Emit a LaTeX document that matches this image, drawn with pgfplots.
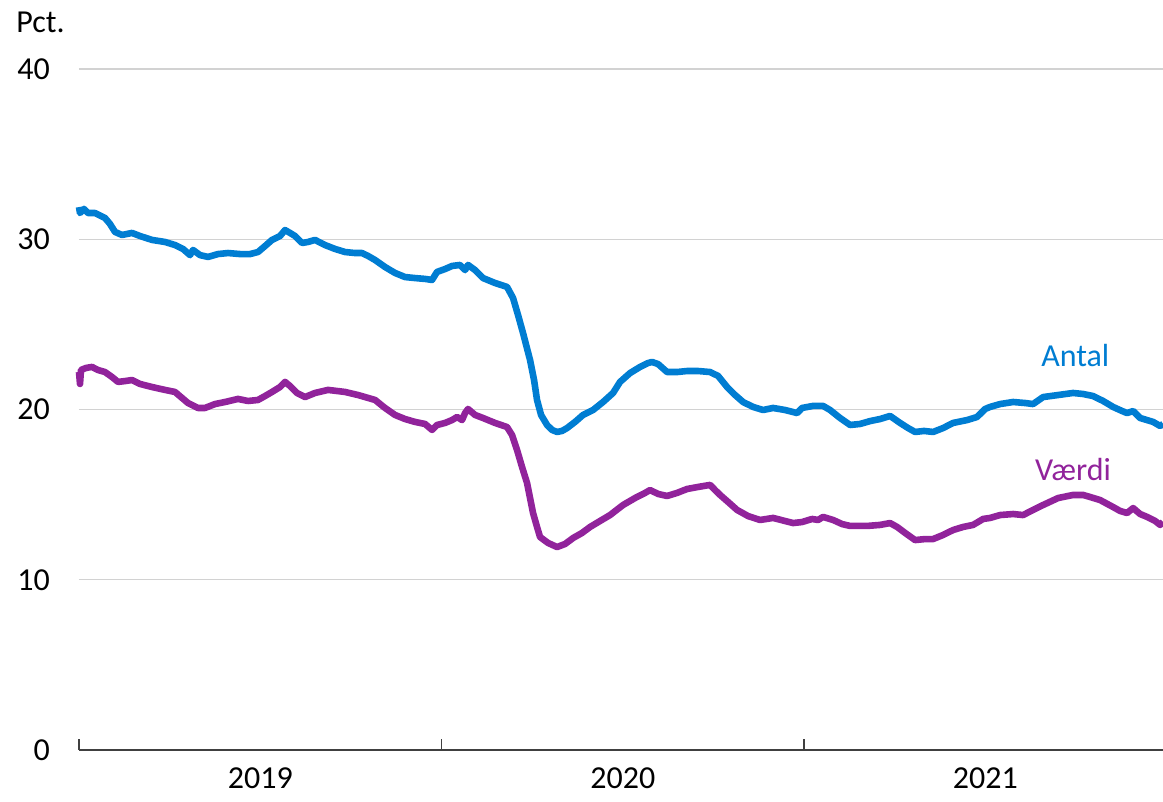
\documentclass[border=0pt]{standalone}
\usepackage{fontspec}
\setmainfont{Carlito}
\usepackage{pgfplots}
\pgfplotsset{compat=1.18}
\usepackage{pgfplotstable}
\definecolor{cblue}{RGB}{0,125,210}
\definecolor{cpurple}{RGB}{145,35,155}
\definecolor{cgrid}{RGB}{210,210,210}
\definecolor{caxis}{RGB}{64,64,64}

\pgfplotstableread{
x y
2019.0000 31.89
2019.0028 31.54
2019.0138 31.78
2019.0248 31.54
2019.0441 31.54
2019.0717 31.25
2019.0855 30.90
2019.0993 30.43
2019.1186 30.25
2019.1462 30.37
2019.1683 30.19
2019.2014 29.96
2019.2372 29.84
2019.2648 29.66
2019.2869 29.43
2019.3062 29.07
2019.3145 29.37
2019.3338 29.07
2019.3559 28.96
2019.3834 29.13
2019.4110 29.19
2019.4441 29.13
2019.4717 29.13
2019.4938 29.25
2019.5131 29.60
2019.5324 29.96
2019.5545 30.19
2019.5683 30.54
2019.5821 30.37
2019.5959 30.19
2019.6152 29.78
2019.6317 29.84
2019.6510 29.96
2019.6786 29.66
2019.7062 29.43
2019.7338 29.25
2019.7614 29.19
2019.7807 29.19
2019.7972 29.02
2019.8166 28.78
2019.8441 28.37
2019.8717 28.02
2019.8993 27.78
2019.9269 27.72
2019.9545 27.67
2019.9738 27.61
2019.9876 28.08
2020.0097 28.25
2020.0290 28.43
2020.0510 28.49
2020.0648 28.19
2020.0731 28.49
2020.0924 28.19
2020.1145 27.72
2020.1476 27.43
2020.1807 27.20
2020.1972 26.55
2020.2110 25.55
2020.2248 24.49
2020.2441 22.91
2020.2552 21.73
2020.2634 20.56
2020.2745 19.68
2020.2910 19.09
2020.3048 18.80
2020.3186 18.68
2020.3324 18.74
2020.3462 18.91
2020.3683 19.27
2020.3903 19.68
2020.4179 19.97
2020.4455 20.44
2020.4731 20.97
2020.4924 21.62
2020.5200 22.14
2020.5476 22.50
2020.5697 22.73
2020.5807 22.79
2020.5972 22.67
2020.6221 22.20
2020.6497 22.20
2020.6772 22.26
2020.7076 22.26
2020.7407 22.20
2020.7628 21.97
2020.7876 21.32
2020.8097 20.85
2020.8317 20.44
2020.8593 20.15
2020.8869 19.97
2020.9145 20.09
2020.9476 19.97
2020.9807 19.79
2020.9945 20.09
2021.0248 20.21
2021.0524 20.21
2021.0717 19.97
2021.0993 19.50
2021.1269 19.09
2021.1545 19.15
2021.1821 19.32
2021.2097 19.44
2021.2372 19.62
2021.2648 19.21
2021.2869 18.91
2021.3062 18.68
2021.3310 18.74
2021.3559 18.68
2021.3834 18.91
2021.4110 19.21
2021.4497 19.38
2021.4772 19.56
2021.4993 20.03
2021.5131 20.15
2021.5407 20.32
2021.5766 20.44
2021.6097 20.38
2021.6317 20.32
2021.6593 20.73
2021.7007 20.85
2021.7421 20.97
2021.7697 20.91
2021.7972 20.79
2021.8248 20.50
2021.8524 20.15
2021.8772 19.91
2021.8910 19.79
2021.9076 19.91
2021.9269 19.50
2021.9628 19.27
2021.9821 19.03
2021.9903 19.15
}\antal

\pgfplotstableread{
x y
2019.0000 22.20
2019.0028 21.50
2019.0055 22.32
2019.0193 22.44
2019.0359 22.50
2019.0524 22.32
2019.0717 22.20
2019.0910 21.91
2019.1076 21.62
2019.1269 21.67
2019.1462 21.73
2019.1683 21.50
2019.2014 21.32
2019.2372 21.15
2019.2648 21.03
2019.2841 20.68
2019.3007 20.38
2019.3283 20.09
2019.3476 20.09
2019.3752 20.32
2019.4028 20.44
2019.4386 20.62
2019.4662 20.50
2019.4938 20.56
2019.5131 20.79
2019.5324 21.03
2019.5545 21.32
2019.5683 21.62
2019.5821 21.38
2019.6014 20.97
2019.6234 20.73
2019.6510 20.97
2019.6869 21.15
2019.7338 21.03
2019.7697 20.85
2019.7972 20.68
2019.8166 20.56
2019.8441 20.09
2019.8717 19.68
2019.8993 19.44
2019.9269 19.27
2019.9545 19.15
2019.9738 18.80
2019.9876 19.09
2020.0097 19.21
2020.0290 19.38
2020.0428 19.56
2020.0566 19.38
2020.0648 19.79
2020.0731 20.03
2020.0924 19.68
2020.1145 19.50
2020.1476 19.21
2020.1807 18.97
2020.1945 18.50
2020.2083 17.62
2020.2221 16.62
2020.2359 15.68
2020.2524 13.92
2020.2634 13.10
2020.2717 12.51
2020.2938 12.16
2020.3186 11.92
2020.3407 12.10
2020.3628 12.45
2020.3876 12.75
2020.4097 13.10
2020.4372 13.45
2020.4648 13.80
2020.5007 14.39
2020.5338 14.80
2020.5614 15.10
2020.5752 15.27
2020.5972 15.04
2020.6221 14.92
2020.6497 15.10
2020.6772 15.33
2020.7076 15.45
2020.7407 15.57
2020.7545 15.27
2020.7683 14.98
2020.7903 14.57
2020.8152 14.10
2020.8455 13.74
2020.8786 13.51
2020.9145 13.63
2020.9476 13.45
2020.9697 13.33
2020.9945 13.39
2021.0221 13.57
2021.0386 13.51
2021.0524 13.69
2021.0800 13.51
2021.1048 13.27
2021.1269 13.16
2021.1738 13.16
2021.2097 13.22
2021.2372 13.33
2021.2566 13.10
2021.2786 12.75
2021.3062 12.33
2021.3338 12.39
2021.3559 12.39
2021.3834 12.63
2021.4110 12.92
2021.4386 13.10
2021.4662 13.22
2021.4938 13.57
2021.5131 13.63
2021.5407 13.80
2021.5766 13.86
2021.6041 13.80
2021.6317 14.10
2021.6593 14.39
2021.7007 14.80
2021.7421 14.98
2021.7697 14.98
2021.7890 14.86
2021.8166 14.68
2021.8524 14.27
2021.8717 14.04
2021.8910 13.92
2021.9076 14.21
2021.9269 13.86
2021.9462 13.69
2021.9683 13.45
2021.9821 13.22
2021.9903 13.39
}\vaerdi

\begin{document}
\begin{tikzpicture}
\begin{axis}[
  scale only axis,
  width=542pt, height=340.5pt,
  xmin=2019, xmax=2021.99,
  ymin=0, ymax=40,
  ytick={0,10,20,30,40},
  xtick={2019.5,2020.5,2021.5},
  xticklabels={2019,2020,2021},
  minor xtick={2019,2020,2021},
  axis x line*=bottom,
  axis y line*=left,
  y axis line style={draw=none},
  x axis line style={draw=caxis, line width=1pt, -},
  tick align=inside,
  major tick length=0pt,
  minor tick length=5.5pt,
  minor tick style={draw=caxis, line width=0.8pt},
  ymajorgrids,
  major grid style={draw=cgrid, line width=0.7pt},
  /pgf/number format/assume math mode=true,
  tick label style={font=\fontsize{16}{19}\selectfont, text=black},
  y tick label style={anchor=east, xshift=-11pt},
  x tick label style={anchor=north, inner sep=0.5pt, yshift=-8pt},
  clip=false,
]
\addplot[cblue, line width=3.3pt, line join=round] table[x=x,y=y] {\antal};
\addplot[cpurple, line width=3.3pt, line join=round] table[x=x,y=y] {\vaerdi};
\node[text=cblue, font=\fontsize{16}{19}\selectfont] at (axis cs:2021.748,23.2) {Antal};
\node[text=cpurple, font=\fontsize{16}{19}\selectfont] at (axis cs:2021.742,16.45) {Værdi};
\node[anchor=west, font=\fontsize{16}{19}\selectfont, inner sep=0pt] at ([xshift=-31.5pt,yshift=23.5pt]rel axis cs:0,1) {Pct.};
\coordinate (bl) at (rel axis cs:0,0);
\coordinate (tr) at (rel axis cs:1,1);
\end{axis}
\pgfresetboundingbox
\path[use as bounding box] ([xshift=-39.5pt,yshift=-26pt]bl) rectangle ([yshift=34.5pt]tr);
\end{tikzpicture}
\end{document}
